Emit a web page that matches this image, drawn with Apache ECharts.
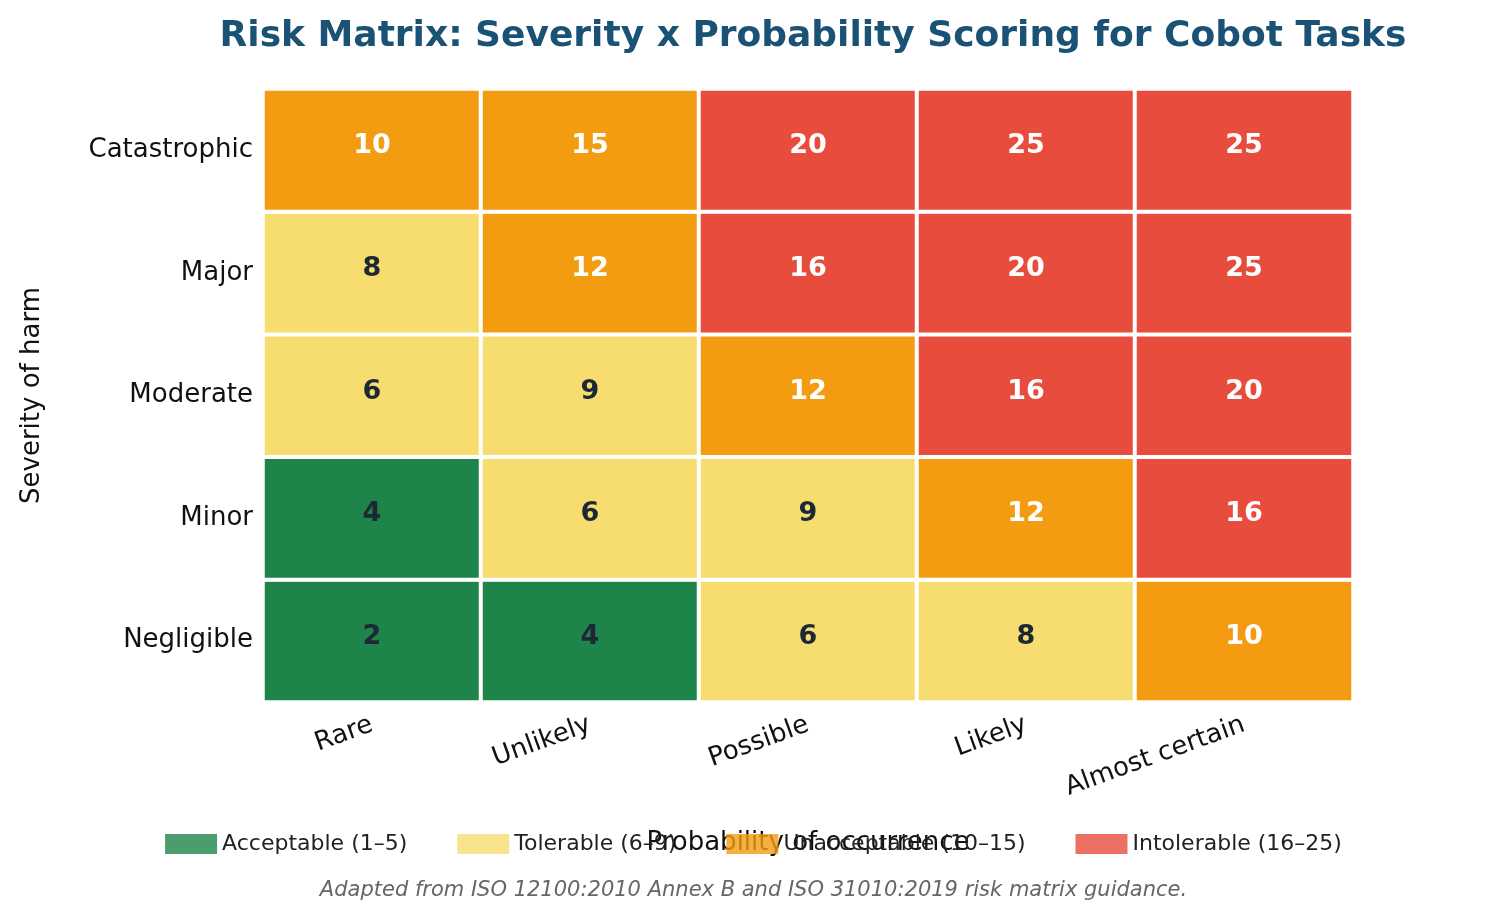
<!DOCTYPE html>
<html>
<head>
<meta charset="utf-8">
<title>Risk Matrix</title>
<script src="https://cdn.jsdelivr.net/npm/echarts@6/dist/echarts.min.js"></script>
<style>body{margin:0;background:#fff;} #main{width:1507px;height:924px;}</style>
</head>
<body>
<div id="main"></div>
<script>
var probLabels = ['Rare', 'Unlikely', 'Possible', 'Likely', 'Almost certain'];
var sevLabels = ['Negligible', 'Minor', 'Moderate', 'Major', 'Catastrophic'];
// scores by severity row (bottom to top), columns by probability
var scores = [
  [2, 4, 6, 8, 10],
  [4, 6, 9, 12, 16],
  [6, 9, 12, 16, 20],
  [8, 12, 16, 20, 25],
  [10, 15, 20, 25, 25]
];
var bandNames = ['Acceptable (1–5)', 'Tolerable (6–9)', 'Unacceptable (10–15)', 'Intolerable (16–25)'];
var bandMax = [5, 9, 15, 25];
var bandColors = ['#1e8449', '#f7dc6f', '#f39c12', '#e74c3c'];
var bandText = ['#1c2833', '#1c2833', '#ffffff', '#ffffff'];

function band(v) {
  for (var i = 0; i < bandMax.length; i++) if (v <= bandMax[i]) return i;
  return bandMax.length - 1;
}

var cells = [];
for (var r = 0; r < scores.length; r++) {
  for (var c = 0; c < scores[r].length; c++) {
    var b = band(scores[r][c]);
    cells.push({
      value: [c, r, scores[r][c]],
      itemStyle: { color: bandColors[b] },
      label: { color: bandText[b] }
    });
  }
}

var series = [{
  type: 'heatmap',
  data: cells,
  itemStyle: { borderColor: '#fff', borderWidth: 4 },
  label: { show: true, fontSize: 27, fontWeight: 'bold', fontFamily: 'DejaVu Sans', offset: [0, -4] },
  emphasis: { disabled: true }
}];
bandNames.forEach(function (n, i) {
  series.push({ type: 'scatter', name: n, data: [], itemStyle: { color: bandColors[i] } });
});

var chart = echarts.init(document.getElementById('main'));
chart.setOption({
  animation: false,
  textStyle: { fontFamily: 'DejaVu Sans' },
  title: {
    text: 'Risk Matrix: Severity x Probability Scoring for Cobot Tasks',
    left: 808, top: 14, textAlign: 'center',
    textStyle: { fontSize: 36, fontWeight: 'bold', color: '#1a5276' }
  },
  grid: { left: 263, right: 154, top: 89, bottom: 222, show: true, borderColor: '#808080', borderWidth: 2, backgroundColor: 'transparent' },
  xAxis: {
    type: 'category', data: probLabels,
    name: 'Probability of occurrence', nameLocation: 'middle', nameGap: 128,
    nameTextStyle: { fontSize: 26, color: '#111' },
    axisLine: { show: false }, axisTick: { show: false },
    axisLabel: { fontSize: 26, color: '#111', rotate: 20, margin: 22 }
  },
  yAxis: {
    type: 'category', data: sevLabels,
    name: 'Severity of harm', nameLocation: 'middle', nameGap: 218,
    nameTextStyle: { fontSize: 26, color: '#111' },
    axisLine: { show: false }, axisTick: { show: false },
    axisLabel: { fontSize: 26, color: '#111', margin: 10 }
  },
  legend: {
    bottom: 64, left: 'center', icon: 'rect', itemWidth: 52, itemHeight: 20, itemGap: 50,
    textStyle: { fontSize: 22, color: '#222' },
    data: bandNames
  },
  graphic: [{
    type: 'text', left: 'center', top: 880,
    style: { text: 'Adapted from ISO 12100:2010 Annex B and ISO 31010:2019 risk matrix guidance.', fontSize: 21, fontStyle: 'italic', fill: '#666', fontFamily: 'DejaVu Sans' }
  }],
  series: series
});
</script>
</body>
</html>
